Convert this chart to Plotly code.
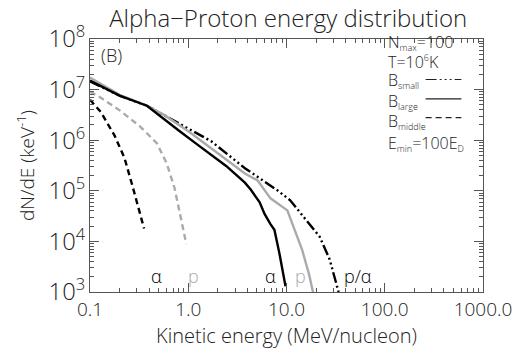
import plotly.graph_objects as go

# Kinetic energy (MeV/nucleon) and dN/dE (keV^-1) for each run
e_alpha_middle = [0.100, 0.129, 0.178, 0.224, 0.269, 0.316, 0.355]
n_alpha_middle = [6.3e6, 3.6e6, 1.23e6, 4.5e5, 1.3e5, 4.1e4, 1.8e4]

e_p_middle = [0.100, 0.129, 0.204, 0.324, 0.479, 0.603, 0.724, 0.851, 0.955]
n_p_middle = [9.1e6, 6.9e6, 3.8e6, 1.86e6, 8.7e5, 3.5e5, 1.15e5, 2.6e4, 8.9e3]

e_alpha_large = [0.100, 0.200, 0.380, 0.513, 0.80, 1.27, 2.43, 3.77, 4.34,
                 5.33, 5.98, 6.87, 7.53, 8.47, 9.77]
n_alpha_large = [1.5e7, 7.6e6, 4.8e6, 3.0e6, 1.55e6, 7.9e5, 3.1e5, 1.45e5,
                 1.05e5, 5.9e4, 3.5e4, 2.2e4, 1.7e4, 5.8e3, 1.3e3]

e_p_large = [0.100, 0.200, 0.380, 0.562, 1.01, 1.72, 3.77, 5.09, 6.87, 10.2,
             12.2, 14.4, 16.9, 19.1]
n_p_large = [1.74e7, 7.9e6, 4.8e6, 3.2e6, 1.48e6, 6.9e5, 2.2e5, 1.6e5, 7.1e4,
             4.1e4, 1.7e4, 6.9e3, 2.3e3, 8.0e2]

e_small = [0.100, 0.200, 0.380, 0.80, 1.72, 3.77, 8.09, 10.9, 15.1, 21.8, 27.5, 33.9]
n_small = [1.45e7, 7.6e6, 4.8e6, 2.14e6, 9.5e5, 2.8e5, 1.02e5, 6.5e4, 3.0e4,
           1.23e4, 4.4e3, 1.0e3]

x_tickvals = [0.1, 1, 10, 100, 1000]
x_ticktext = ["0.1", "1.0", "10.0", "100.0", "1000.0"]

GRAY = "#aaaaaa"
BLACK = "#000000"
TEXT = "#222222"
DASHDOTDOT = "11px,3px,2px,3px,2px,3px,2px,3px"
DASHED = "6px,4px"
FONT = "Open Sans"


def font(size, color=TEXT):
    return dict(family=FONT, size=size, color=color, weight=300)


def small_sub(s):
    return "<sub><span style='font-size:9px'>" + s + "</span></sub>"


fig = go.Figure()


def add(x, y, color, dash):
    fig.add_trace(go.Scatter(x=x, y=y, mode="lines",
                             line=dict(color=color, width=2.4, dash=dash),
                             showlegend=False, hoverinfo="skip"))


add(e_small, n_small, BLACK, DASHDOTDOT)
add(e_p_large, n_p_large, GRAY, "solid")
add(e_alpha_large, n_alpha_large, BLACK, "solid")
add(e_p_middle, n_p_middle, GRAY, DASHED)
add(e_alpha_middle, n_alpha_middle, BLACK, DASHED)

# transparent copy on the top/right axes so their ticks get drawn
fig.add_trace(go.Scatter(x=e_small, y=n_small, xaxis="x2", yaxis="y2",
                         mode="lines", opacity=0, showlegend=False,
                         hoverinfo="skip"))

axis_common = dict(
    type="log", showgrid=False, zeroline=False, showline=True,
    linecolor="#555555", linewidth=1,
    ticks="inside", ticklen=9, tickcolor="#555555", tickwidth=1,
    tickfont=font(19),
    minor=dict(ticks="inside", ticklen=4, tickcolor="#555555", dtick="D1",
               showgrid=False),
)

fig.update_layout(
    xaxis=dict(axis_common, range=[-1, 3], tickvals=x_tickvals,
               ticktext=x_ticktext,
               title=dict(text="Kinetic energy (MeV/nucleon)", standoff=5,
                          font=font(20))),
    yaxis=dict(axis_common, range=[3, 8], dtick=1, exponentformat="power",
               title=dict(text="dN/dE (keV<sup>-1</sup>)", standoff=8,
                          font=font(19))),
    xaxis2=dict(axis_common, range=[-1, 3], tickvals=x_tickvals,
                overlaying="x", side="top", showticklabels=False),
    yaxis2=dict(axis_common, range=[3, 8], dtick=1, overlaying="y",
                side="right", showticklabels=False),
)

# Curve labels along the bottom
labels = [(-0.327, "α", BLACK), (0.054, "p", GRAY), (0.837, "α", BLACK),
          (1.139, "p", GRAY), (1.731, "p/α", BLACK)]
for lx, txt, col in labels:
    fig.add_annotation(x=lx, y=3.31, xref="x", yref="y", text=txt,
                       showarrow=False, font=font(18, col))

fig.add_annotation(x=-0.779, y=7.69, xref="x", yref="y", text="(B)",
                   showarrow=False, font=font(18))

# Parameter block and line key
key_text = [
    (0.988, "N" + small_sub("max") + "=100"),
    (0.910, "T=10<sup><span style='font-size:9px'>6</span></sup>K"),
    (0.837, "B" + small_sub("small")),
    (0.751, "B" + small_sub("large")),
    (0.673, "B" + small_sub("middle")),
    (0.588, "E" + small_sub("min") + "=100E" + small_sub("D")),
]
for ky, txt in key_text:
    fig.add_annotation(x=0.752, y=ky, xref="paper", yref="paper", text=txt,
                       xanchor="left", yanchor="middle", showarrow=False,
                       font=font(16))

key_lines = [(0.840, DASHDOTDOT), (0.763, "solid"), (0.689, DASHED)]
for ly, dash in key_lines:
    fig.add_shape(type="line", xref="paper", yref="paper",
                  x0=0.854, x1=0.945, y0=ly, y1=ly,
                  line=dict(color=TEXT, width=1.2, dash=dash))

fig.update_layout(
    width=524, height=353,
    margin=dict(l=90, r=36, t=39, b=57),
    paper_bgcolor="white", plot_bgcolor="white",
    title=dict(text="Alpha\u2212Proton energy distribution", x=0.55, xanchor="center",
               y=0.948, yanchor="middle", font=font(24)),
)

fig.write_html("out.html")
